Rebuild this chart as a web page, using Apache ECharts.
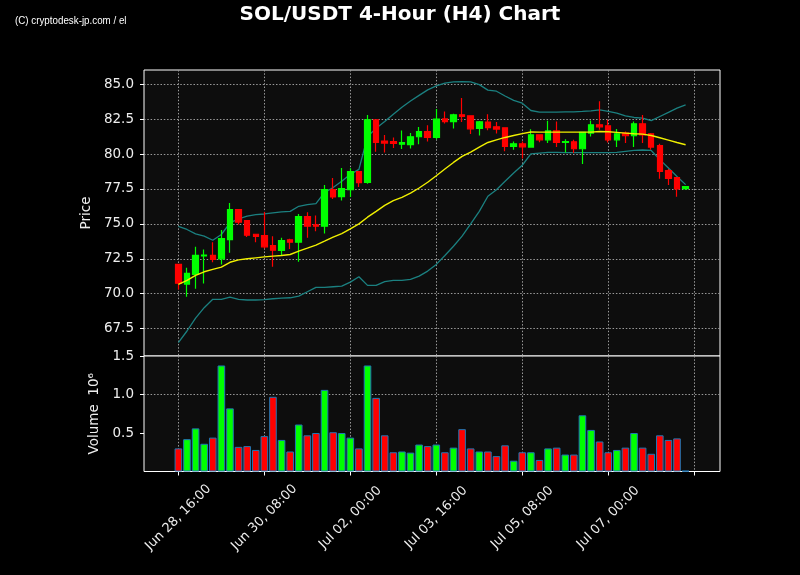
<!DOCTYPE html>
<html>
<head>
<meta charset="utf-8">
<script src="https://cdn.jsdelivr.net/npm/echarts@6/dist/echarts.min.js"></script>
<style>
html,body{margin:0;padding:0;background:#000;}
#chart{width:800px;height:575px;}
</style>
</head>
<body>
<div id="chart"></div>
<script>
// ---- data ----
const candleTimes = [
  '06-28 16:00','06-28 20:00','06-29 00:00','06-29 04:00','06-29 08:00','06-29 12:00','06-29 16:00','06-29 20:00',
  '06-30 00:00','06-30 04:00','06-30 08:00','06-30 12:00','06-30 16:00','06-30 20:00',
  '07-01 00:00','07-01 04:00','07-01 08:00','07-01 12:00','07-01 16:00','07-01 20:00',
  '07-02 00:00','07-02 04:00','07-02 08:00','07-02 12:00','07-02 16:00','07-02 20:00',
  '07-03 00:00','07-03 04:00','07-03 08:00','07-03 12:00','07-03 16:00','07-03 20:00',
  '07-04 00:00','07-04 04:00','07-04 08:00','07-04 12:00','07-04 16:00','07-04 20:00',
  '07-05 00:00','07-05 04:00','07-05 08:00','07-05 12:00','07-05 16:00','07-05 20:00',
  '07-06 00:00','07-06 04:00','07-06 08:00','07-06 12:00','07-06 16:00','07-06 20:00',
  '07-07 00:00','07-07 04:00','07-07 08:00','07-07 12:00','07-07 16:00','07-07 20:00',
  '07-08 00:00','07-08 04:00','07-08 08:00','07-08 12:00'
];
const opens  = [72.10,70.69,71.38,72.70,72.74,72.50,73.88,76.02,75.24,74.26,
                74.17,73.45,73.10,73.86,73.69,75.52,74.93,74.83,77.45,76.95,
                77.45,78.74,77.98,82.45,80.93,80.90,80.71,80.67,81.24,81.60,
                81.19,82.52,82.33,82.81,82.74,81.83,82.29,81.95,81.88,80.55,
                80.74,80.50,81.38,81.02,81.66,80.83,80.88,80.38,81.50,82.10,
                82.02,81.02,81.50,81.31,82.17,81.45,80.60,78.81,78.31,77.52];
const closes = [70.75,71.45,72.74,72.77,72.45,73.95,76.02,75.12,74.19,74.10,
                73.36,73.12,73.81,73.69,75.52,74.83,74.83,77.45,76.93,77.52,
                78.74,77.95,82.45,80.83,80.79,80.76,80.83,81.24,81.60,81.19,
                82.50,82.33,82.81,82.69,81.81,82.31,81.90,81.79,80.55,80.74,
                80.52,81.38,81.02,81.66,80.83,80.90,80.38,81.55,82.10,81.95,
                81.02,81.45,81.31,82.17,81.38,80.50,78.76,78.26,77.50,77.67];
const lows   = [70.30,69.79,70.36,70.74,72.26,72.10,72.93,74.95,74.07,73.69,
                73.24,71.93,72.74,73.21,72.29,74.00,74.48,74.31,76.79,76.67,
                76.93,77.64,77.88,80.17,80.12,80.43,80.36,80.40,80.71,80.90,
                81.07,82.19,81.83,82.29,81.43,81.33,81.71,81.48,80.21,80.31,
                79.68,80.45,80.85,80.80,80.50,80.12,80.07,79.29,81.26,81.74,
                80.83,80.50,80.79,80.50,80.79,80.31,78.24,77.79,76.95,77.43];
const highs  = [72.12,71.86,73.36,73.17,73.69,74.57,76.50,76.05,75.26,74.28,
                75.86,74.12,74.00,73.93,75.71,75.83,75.60,77.79,78.29,79.00,
                78.98,78.76,82.79,82.50,81.36,81.19,81.69,81.50,81.93,82.07,
                83.22,83.05,82.88,84.01,82.76,82.36,82.86,82.29,81.90,80.90,
                80.90,81.77,81.40,82.39,82.33,81.07,81.02,81.57,82.40,83.79,
                82.45,81.79,81.62,82.33,82.79,81.50,80.74,78.93,78.33,77.71];
// volume in units of 10^6
const volumes = [0.30,0.42,0.56,0.36,0.44,1.377,0.82,0.32,0.33,0.28,
                 0.46,0.97,0.41,0.26,0.61,0.47,0.50,1.06,0.51,0.50,
                 0.44,0.30,1.377,0.956,0.47,0.25,0.26,0.245,0.35,0.33,
                 0.35,0.25,0.31,0.55,0.30,0.26,0.26,0.20,0.34,0.14,
                 0.25,0.25,0.15,0.30,0.31,0.22,0.22,0.73,0.54,0.39,
                 0.25,0.28,0.31,0.50,0.31,0.23,0.47,0.41,0.43,0.01];
const sma = [70.67,70.95,71.31,71.57,71.74,71.90,72.25,72.42,72.50,72.57,
             72.64,72.69,72.74,72.81,73.05,73.26,73.48,73.76,74.05,74.31,
             74.64,75.00,75.48,75.90,76.33,76.67,76.90,77.21,77.57,77.98,
             78.45,78.93,79.40,79.83,80.14,80.50,80.83,81.02,81.19,81.33,
             81.46,81.58,81.57,81.57,81.57,81.57,81.57,81.57,81.57,81.62,
             81.60,81.55,81.50,81.45,81.43,81.33,81.17,81.00,80.83,80.67];
const upperBand = [74.83,74.60,74.29,74.12,73.83,74.24,75.07,75.36,75.55,75.67,
                   75.71,75.79,75.86,75.90,76.26,76.38,76.45,77.25,77.60,78.05,
                   78.55,78.90,81.25,81.85,82.33,82.85,83.35,83.80,84.20,84.60,
                   84.88,85.08,85.17,85.19,85.17,84.97,84.58,84.50,84.16,83.85,
                   83.64,83.12,83.00,83.00,83.00,83.02,83.02,83.05,83.10,83.17,
                   83.05,82.93,82.74,82.62,82.57,82.40,82.69,82.98,83.29,83.52];
const lowerBand = [66.50,67.33,68.25,69.00,69.60,69.60,69.76,69.60,69.55,69.55,
                   69.57,69.64,69.69,69.71,69.83,70.14,70.45,70.45,70.50,70.55,
                   70.83,71.21,70.60,70.60,70.86,70.95,70.95,71.02,71.26,71.62,
                   72.10,72.74,73.40,74.12,75.00,75.90,76.98,77.45,78.05,78.64,
                   79.20,80.02,80.07,80.12,80.12,80.10,80.10,80.10,80.10,80.10,
                   80.10,80.12,80.19,80.26,80.29,80.26,79.60,79.00,78.40,77.81];
const priceTicks = [67.5,70.0,72.5,75.0,77.5,80.0,82.5,85.0];
const volumeTicks = [0.5,1.0,1.5];
const xTickSlots = [0,10,20,30,40,50,60];
const xTickLabels = ['Jun 28, 16:00','Jun 30, 08:00','Jul 02, 00:00','Jul 03, 16:00','Jul 05, 08:00','Jul 07, 00:00',''];

// ---- build ----
const PAD = 4;
const axisCats = [];
for (let k = -PAD; k < 0; k++) axisCats.push('slot' + k);
candleTimes.forEach(t => axisCats.push(t));
for (let k = candleTimes.length; k < candleTimes.length + PAD; k++) axisCats.push('slot' + k);

const UP = '#00ff00', DOWN = '#ff0000';
const FONT = 'DejaVu Sans';
const LABEL_COLOR = '#eeeeee';
const gridLine = {color: '#9a9a9a', width: 1, type: [1.5, 1.8]};
const isTick = (idx) => xTickSlots.indexOf(idx - PAD) >= 0;

const candleData = candleTimes.map((t, i) => [t, opens[i], closes[i], lows[i], highs[i]]);
const volData = candleTimes.map((t, i) => ({
  value: [t, volumes[i]],
  itemStyle: {color: closes[i] >= opens[i] ? UP : DOWN}
}));
const lineData = arr => candleTimes.map((t, i) => [t, arr[i]]);

const chart = echarts.init(document.getElementById('chart'), null, {renderer: 'canvas'});
chart.setOption({
  backgroundColor: '#000000',
  animation: false,
  title: {
    text: 'SOL/USDT 4-Hour (H4) Chart',
    left: 'center', top: 0,
    textStyle: {color: '#ffffff', fontFamily: FONT, fontWeight: 'bold', fontSize: 20}
  },
  graphic: [{
    type: 'text', left: 15, top: 15, scaleX: 0.89,
    style: {text: '(C) cryptodesk-jp.com / el', fill: '#ffffff',
            font: '11px "Liberation Sans Narrow", "Liberation Sans", sans-serif'}
  }],
  grid: [
    {left: 144, top: 70, width: 576, height: 286, show: true,
     backgroundColor: '#0d0d0d', borderColor: '#ffffff', borderWidth: 1},
    {left: 144, top: 356, width: 576, height: 115.5, show: true,
     backgroundColor: '#0d0d0d', borderColor: '#ffffff', borderWidth: 1}
  ],
  xAxis: [
    {type: 'category', gridIndex: 0, data: axisCats, boundaryGap: false,
     axisLine: {show: false}, axisTick: {show: false}, axisLabel: {show: false},
     splitLine: {show: true, interval: isTick, lineStyle: gridLine}},
    {type: 'category', gridIndex: 1, data: axisCats, boundaryGap: false,
     axisLine: {show: false},
     axisTick: {show: true, interval: isTick, length: 4, lineStyle: {color: '#ffffff'}},
     axisLabel: {interval: isTick, rotate: 45, align: 'center', verticalAlign: 'middle', margin: 46,
                 color: LABEL_COLOR, fontFamily: FONT, fontSize: 13,
                 formatter: (v, i) => xTickLabels[xTickSlots.indexOf(i - PAD)] || ''},
     splitLine: {show: true, interval: isTick, lineStyle: gridLine}}
  ],
  yAxis: [
    {type: 'value', gridIndex: 0, min: 65.54, max: 86.02, scale: true,
     axisLine: {show: false},
     axisTick: {show: true, length: 4, customValues: priceTicks, lineStyle: {color: '#ffffff'}},
     axisLabel: {customValues: priceTicks, formatter: v => v.toFixed(1), color: LABEL_COLOR,
                 fontFamily: FONT, fontSize: 13.5, margin: 10},
     splitLine: {show: true, lineStyle: gridLine},
     name: 'Price', nameLocation: 'middle', nameGap: 43,
     nameTextStyle: {color: LABEL_COLOR, fontFamily: FONT, fontSize: 13.5}},
    {type: 'value', gridIndex: 1, min: 0, max: 1.5, interval: 0.5,
     axisLine: {show: false},
     axisTick: {show: true, length: 4, customValues: volumeTicks, lineStyle: {color: '#ffffff'}},
     axisLabel: {customValues: volumeTicks, formatter: v => v.toFixed(1), color: LABEL_COLOR,
                 fontFamily: FONT, fontSize: 13.5, margin: 10},
     splitLine: {show: true, showMinLine: false, showMaxLine: false, lineStyle: gridLine},
     name: 'Volume  10\u2076', nameLocation: 'middle', nameGap: 37,
     nameTextStyle: {color: LABEL_COLOR, fontFamily: FONT, fontSize: 13.5}}
  ],
  series: [
    {type: 'line', name: 'Upper', xAxisIndex: 0, yAxisIndex: 0, data: lineData(upperBand),
     symbol: 'none', lineStyle: {color: '#1b8080', width: 1.3}, z: 2},
    {type: 'line', name: 'Lower', xAxisIndex: 0, yAxisIndex: 0, data: lineData(lowerBand),
     symbol: 'none', lineStyle: {color: '#1b8080', width: 1.3}, z: 2},
    {type: 'line', name: 'SMA', xAxisIndex: 0, yAxisIndex: 0, data: lineData(sma),
     symbol: 'none', lineStyle: {color: '#f0f000', width: 1.4}, z: 4},
    {type: 'candlestick', name: 'SOL/USDT', xAxisIndex: 0, yAxisIndex: 0, data: candleData,
     encode: {x: 0, y: [1, 2, 3, 4]}, barWidth: 6, z: 3,
     itemStyle: {color: UP, color0: DOWN, borderColor: UP, borderColor0: DOWN, borderWidth: 1.2}},
    {type: 'bar', name: 'Volume', xAxisIndex: 1, yAxisIndex: 1, data: volData,
     encode: {x: 0, y: 1}, barWidth: 7.6,
     itemStyle: {borderColor: '#1f77b4', borderWidth: 1}}
  ]
});
</script>
</body>
</html>
